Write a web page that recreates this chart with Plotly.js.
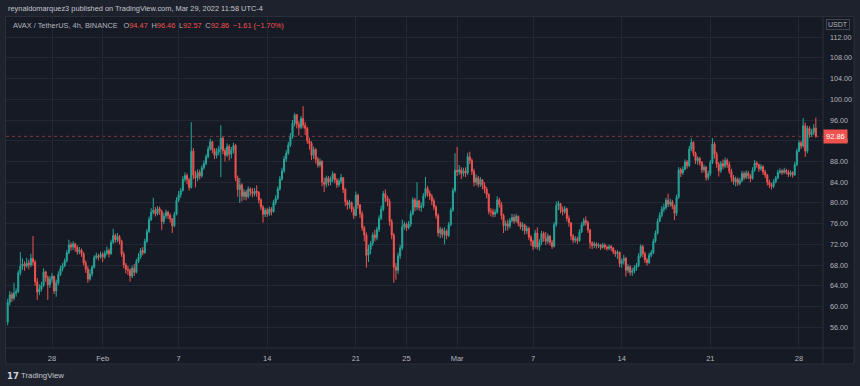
<!DOCTYPE html>
<html><head><meta charset="utf-8">
<script src="https://cdn.plot.ly/plotly-3.0.1.min.js"></script>
<style>html,body{margin:0;padding:0;background:#1e222d;}#chart{width:860px;height:386px;}</style>
</head><body><div id="chart"></div>
<script>
// ---- data (AVAX / TetherUS, 4h, BINANCE) ----
const startTime = '2022-01-24T12:00:00Z';
const stepHours = 4;
const firstOpen = 57.0;
const close = [
60.8,62.3,61.6,
62.6,62.9,66.5,67.8,68.2,67.8,
68.4,68.0,69.3,68.6,64.8,62.8,
63.4,64.1,66.7,65.6,64.2,65.3,
65.8,63.0,64.6,66.2,67.3,67.9,
68.8,70.4,71.9,71.5,72.1,71.4,
70.6,70.9,70.2,68.4,67.2,65.3,
66.3,67.6,69.5,69.8,69.5,70.1,
69.6,70.3,70.8,70.2,72.4,73.7,
72.9,73.5,72.6,70.1,68.0,67.2,
67.0,65.9,67.4,66.6,68.7,69.6,
70.8,70.4,72.6,74.5,76.8,78.2,
78.6,77.9,78.9,78.4,76.4,77.5,
78.2,77.6,76.9,75.6,77.8,80.5,
81.6,82.4,84.6,85.3,84.5,83.0,
90.0,85.4,84.8,85.9,85.2,86.8,
87.6,88.9,90.4,91.8,90.3,89.2,
89.8,90.4,92.5,90.1,89.2,90.9,
89.4,90.2,91.1,84.8,82.6,83.5,
81.3,82.1,81.2,82.7,82.2,81.8,
82.3,82.0,80.6,79.2,77.8,78.6,
77.9,78.8,78.3,80.1,80.9,82.7,
84.6,86.2,88.5,89.6,91.2,92.8,
95.4,97.0,95.2,94.6,96.3,95.0,
94.4,92.0,91.5,89.2,90.3,88.4,
87.3,88.0,84.0,83.6,84.8,84.0,
84.6,85.6,84.4,83.5,84.2,84.9,
82.6,80.3,79.6,80.1,78.8,77.6,
81.5,79.6,77.9,75.2,73.8,69.9,
71.1,72.2,73.8,73.3,74.9,77.0,
78.8,81.8,81.0,80.3,76.4,73.8,
67.6,67.0,69.8,71.3,75.4,75.9,
75.2,75.9,77.9,80.6,79.2,80.4,
79.1,79.4,81.4,82.8,81.9,81.3,
80.4,79.2,77.6,74.2,74.9,73.9,
74.6,73.7,75.8,78.6,82.4,86.3,
86.0,86.4,85.7,86.2,85.8,88.9,
88.2,86.1,84.0,84.8,83.6,84.5,
83.4,82.7,81.6,78.4,78.3,77.8,
78.2,80.6,79.7,77.6,75.6,76.0,
75.5,76.6,77.2,76.5,77.4,76.1,
75.4,75.8,74.6,75.1,73.4,72.6,
71.6,74.2,71.5,72.4,74.1,73.2,
72.6,73.6,72.4,71.6,75.8,79.5,
79.9,78.7,78.3,78.9,77.0,76.2,
73.6,72.8,73.1,72.7,74.4,75.8,
76.6,76.2,74.8,72.3,71.8,72.1,
71.7,71.9,71.4,71.9,71.5,71.2,
71.6,71.3,70.6,70.2,70.5,68.3,
68.8,69.3,67.0,67.7,66.6,66.9,
67.5,67.9,69.8,71.6,70.2,69.0,
68.5,69.9,70.4,72.6,74.2,76.4,
77.6,78.8,79.1,80.5,79.8,80.2,
79.4,78.0,81.1,86.4,85.8,86.5,
87.9,87.2,90.4,91.7,89.6,88.2,
88.6,87.8,86.4,86.9,84.9,85.6,
87.8,91.4,89.4,87.5,86.2,87.6,
87.1,88.2,87.4,86.1,84.9,84.1,
84.6,83.8,84.3,85.7,84.9,85.8,
85.2,84.7,86.3,87.7,87.4,86.6,
87.0,86.0,85.4,84.0,83.5,83.2,
84.1,84.8,85.9,86.2,85.9,86.3,
86.0,85.5,85.9,85.4,87.4,90.0,
91.6,91.0,94.9,90.0,94.4,93.2,
93.6,94.47,92.86
];
const high = [
61.5,63.0,62.8,
64.6,63.5,67.0,70.5,69.3,68.7,
69.4,69.0,70.2,73.6,69.0,65.5,
64.3,64.8,67.4,66.9,66.0,65.9,
66.5,66.0,65.2,66.8,67.9,68.4,
69.3,70.9,72.9,72.4,72.6,72.3,
71.8,71.5,71.2,70.5,68.9,67.8,
67.2,68.0,69.9,70.4,70.2,70.6,
70.5,70.8,71.6,71.2,72.9,75.0,
74.1,74.2,73.8,72.9,70.6,68.4,
67.9,67.4,67.9,68.2,69.2,70.3,
71.3,71.5,73.1,75.0,77.4,79.0,
81.0,79.2,79.4,79.3,78.7,78.1,
78.7,78.5,78.0,77.1,78.3,81.1,
82.3,82.9,85.2,85.9,85.7,84.8,
95.6,90.6,86.2,86.5,86.4,87.3,
88.2,89.4,91.0,92.4,92.0,90.6,
90.6,91.0,95.0,92.8,90.6,91.5,
91.3,90.8,91.6,91.4,85.3,84.8,
83.8,82.7,82.5,83.2,83.0,82.9,
82.9,83.4,82.3,80.9,79.6,79.1,
79.0,79.3,79.2,80.6,81.5,83.2,
85.2,86.8,89.1,90.2,91.8,93.5,
96.0,97.4,97.2,95.8,96.8,98.7,
95.6,94.7,92.6,91.9,90.9,90.6,
88.9,88.6,88.3,84.9,85.3,85.2,
85.1,86.1,85.8,84.8,84.7,85.6,
85.0,82.9,80.6,80.6,80.3,79.3,
82.2,81.8,79.8,78.4,75.6,74.3,
71.9,72.6,74.3,74.8,75.4,77.6,
79.5,82.3,82.6,81.4,80.8,76.9,
74.2,68.4,70.4,71.9,76.8,76.4,
76.2,76.5,78.5,81.1,81.0,84.0,
80.6,80.1,81.9,85.0,83.3,82.4,
81.7,80.9,79.6,78.0,75.4,75.2,
75.3,74.9,76.3,79.1,82.9,89.6,
90.8,87.3,86.9,86.8,86.9,89.7,
89.9,88.6,86.6,85.5,85.2,85.0,
84.6,84.0,83.1,81.9,79.0,78.9,
78.8,81.3,81.0,80.2,77.9,76.6,
76.8,77.1,77.9,77.8,77.9,77.6,
76.4,76.3,76.0,75.6,75.4,73.8,
72.9,74.8,75.3,73.0,74.6,74.5,
74.4,74.1,73.8,72.9,76.3,80.3,
80.4,80.0,79.3,79.4,79.1,77.6,
76.2,74.0,73.6,73.5,74.9,76.3,
77.1,77.4,76.6,75.0,72.6,72.5,
72.4,72.3,72.1,72.3,72.2,71.8,
72.0,71.9,71.5,70.9,70.9,70.6,
69.3,70.0,69.6,68.2,68.0,67.5,
68.0,68.4,70.3,72.0,71.9,70.6,
69.4,70.4,70.9,73.1,74.7,77.0,
78.2,79.4,79.9,81.0,81.8,80.8,
80.6,79.7,81.6,86.9,86.8,87.1,
88.4,88.3,91.0,92.5,91.9,89.9,
89.0,88.9,88.1,87.4,87.1,86.2,
88.3,92.5,91.8,89.9,87.9,88.1,
88.4,88.8,88.6,88.0,86.6,85.4,
85.1,84.9,84.9,86.2,86.1,86.3,
86.2,85.6,86.9,88.3,88.1,87.6,
87.5,87.3,86.4,85.6,84.5,83.9,
84.6,85.2,86.4,86.7,86.5,86.8,
86.6,86.4,86.3,86.1,87.9,90.5,
92.1,92.0,96.4,95.5,94.9,94.8,
94.3,95.2,96.46
];
const low = [
56.4,60.2,60.9,
61.2,61.9,62.6,66.0,67.1,66.9,
67.5,67.2,67.6,67.9,64.0,61.3,
62.2,62.9,63.8,64.8,61.3,63.6,
64.6,62.4,61.9,64.1,65.9,66.8,
67.6,68.5,70.1,70.8,70.9,70.6,
70.0,70.1,69.6,67.9,66.5,64.6,
65.0,65.8,67.3,69.1,68.9,69.3,
68.6,69.2,69.9,69.5,70.0,72.1,
72.3,72.4,72.0,69.6,67.4,66.4,
66.1,64.8,65.5,65.9,66.4,68.4,
69.2,69.9,70.2,72.3,74.2,76.5,
77.8,77.4,77.6,77.7,74.8,75.9,
77.0,76.9,76.2,74.2,75.3,77.6,
80.2,81.0,82.2,84.1,83.6,82.4,
82.8,84.6,83.0,84.2,84.5,84.9,
86.4,87.3,88.6,90.1,89.6,88.5,
88.6,89.2,85.0,89.4,88.0,88.9,
88.2,88.6,89.6,84.2,81.2,80.0,
80.3,80.6,80.5,80.9,81.4,81.1,
81.3,81.2,79.9,78.6,76.2,77.3,
77.3,77.5,77.6,78.1,79.6,80.6,
82.4,84.3,85.8,87.9,89.3,90.8,
92.4,94.8,94.4,93.0,94.2,94.4,
93.1,91.4,90.3,88.3,88.5,87.6,
86.8,86.9,83.2,82.1,83.0,83.3,
83.4,84.0,83.8,82.9,83.1,83.7,
81.9,79.4,78.7,78.9,78.2,76.9,
77.4,78.9,77.1,74.6,72.6,67.5,
68.6,70.1,71.7,72.6,72.8,74.4,
76.7,78.4,80.2,79.4,75.6,73.0,
64.6,65.2,66.3,69.2,70.9,74.8,
74.6,74.9,75.4,77.6,78.4,78.6,
78.5,78.3,79.0,81.0,81.2,80.6,
79.6,78.6,77.0,73.5,73.2,73.3,
72.0,73.0,73.4,75.5,78.3,82.0,
85.2,85.4,84.6,85.1,85.0,85.4,
87.5,85.4,83.2,83.4,83.0,83.1,
82.6,81.9,80.9,77.8,77.4,77.2,
77.3,77.9,79.1,76.8,74.2,74.6,
74.7,75.1,76.2,76.0,76.2,75.5,
74.9,74.6,73.9,74.0,72.8,71.7,
70.9,71.2,71.0,70.8,71.9,72.5,
71.9,72.1,71.8,71.1,71.4,75.4,
78.6,78.0,77.6,77.9,76.4,75.4,
72.8,72.2,72.3,72.1,72.5,74.2,
75.5,75.6,74.2,71.2,71.1,71.3,
71.2,71.3,70.9,71.2,71.0,70.8,
70.9,70.7,70.1,69.6,69.2,67.6,
67.5,68.1,65.8,66.5,66.0,65.9,
66.4,66.9,67.6,69.4,69.5,68.4,
67.9,68.2,69.5,70.1,72.3,73.9,
76.4,77.2,78.2,78.7,79.2,79.3,
78.8,76.7,77.5,80.8,85.0,85.4,
86.3,86.6,86.9,90.0,89.0,87.5,
87.4,87.2,85.8,85.9,84.3,84.4,
85.2,87.5,88.6,86.8,85.1,85.8,
86.5,86.7,86.8,85.6,84.1,83.5,
83.2,83.3,83.4,84.0,84.4,84.6,
84.6,84.0,84.5,86.0,86.8,86.0,
86.2,85.4,84.8,83.4,82.9,82.6,
82.9,83.8,84.6,85.6,85.4,85.6,
85.5,85.0,85.1,84.9,85.2,87.1,
89.8,90.4,90.7,88.9,89.6,92.6,
92.8,93.1,92.57
];
const tickDates = ['2022-01-28','2022-02-01','2022-02-07','2022-02-14','2022-02-21','2022-02-25','2022-03-01','2022-03-07','2022-03-14','2022-03-21','2022-03-28'];
const tickLabels = ['28','Feb','7','14','21','25','Mar','7','14','21','28'];
const priceTicks = [56,60,64,68,72,76,80,84,88,92,96,100,104,108,112];

// ---- derived ----
const times = close.map((_, i) => new Date(Date.parse(startTime) + i*stepHours*3600e3).toISOString().slice(0,16).replace('T',' '));
const open = close.map((c, i) => i === 0 ? firstOpen : close[i-1]);
const n = close.length;
const lastO = open[n-1], lastH = high[n-1], lastL = low[n-1], lastC = close[n-1];
const chg = lastC - lastO, pct = chg / lastO * 100;
const fmtS = v => (v < 0 ? '\u2212' : '+') + Math.abs(v).toFixed(2);

// ---- layout geometry (pixels) ----
const PL = 6, PR = 823, PT = 17, PB = 348;
const xp = x => (x - PL) / (PR - PL);
const yp = y => (PB - y) / (PB - PT);
const FONT = 'Liberation Sans Narrow, Liberation Sans, Arial, sans-serif';
const UP = '#26a69a', DN = '#ef5350', TXT = '#b2b5be', GRID = '#232734', BORDER = '#2a2e39';

const trace = {
  type: 'candlestick', x: times, open: open, high: high, low: low, close: close,
  increasing: {line: {color: UP, width: 1}, fillcolor: UP},
  decreasing: {line: {color: DN, width: 1}, fillcolor: DN},
  whiskerwidth: 0, hoverinfo: 'skip', showlegend: false
};

const red = s => '<span style="color:' + DN + '">' + s + '</span>';
const legendText = 'AVAX / TetherUS, 4h, BINANCE\u2002 O' + red(lastO.toFixed(2)) + '\u2002H' + red(lastH.toFixed(2)) +
  '\u2002L' + red(lastL.toFixed(2)) + '\u2002C' + red(lastC.toFixed(2)) + '\u2002' + red(fmtS(chg) + ' (' + fmtS(pct) + '%)');

const layout = {
  width: 860, height: 386,
  margin: {l: PL, r: 860 - PR, t: PT, b: 386 - PB, pad: 0},
  paper_bgcolor: '#1e222d', plot_bgcolor: 'rgba(0,0,0,0)',
  showlegend: false,
  font: {family: FONT, size: 8, color: TXT},
  xaxis: {
    type: 'date', range: ['2022-01-24 08:48', '2022-03-29 21:36'],
    tickmode: 'array', tickvals: tickDates, ticktext: tickLabels,
    showgrid: true, gridcolor: GRID, gridwidth: 1, zeroline: false, showline: false,
    ticks: '', ticklabelstandoff: 4, tickfont: {family: FONT, size: 7.5, color: TXT},
    rangeslider: {visible: false}, fixedrange: true
  },
  yaxis: {
    side: 'right', range: [52, 115.9],
    tickmode: 'array', tickvals: priceTicks, ticktext: priceTicks.map(v => v.toFixed(2)),
    showgrid: true, gridcolor: GRID, gridwidth: 1, zeroline: false, showline: false,
    ticks: '', ticklabelstandoff: 6, tickfont: {family: FONT, size: 7.2, color: TXT}, fixedrange: true
  },
  shapes: [
    {type: 'rect', xref: 'paper', yref: 'paper', x0: xp(5.5), x1: xp(854), y0: yp(364), y1: yp(16.5),
     fillcolor: '#161a25', line: {color: BORDER, width: 1}, layer: 'below'},
    {type: 'line', xref: 'paper', yref: 'paper', x0: xp(5.5), x1: xp(854), y0: 0, y1: 0,
     line: {color: BORDER, width: 1}, layer: 'below'},
    {type: 'line', xref: 'paper', yref: 'paper', x0: 1, x1: 1, y0: yp(364), y1: yp(16.5),
     line: {color: BORDER, width: 1}, layer: 'below'},
    {type: 'line', xref: 'paper', yref: 'y', x0: 0, x1: 1, y0: lastC, y1: lastC,
     line: {color: 'rgba(239,83,80,0.5)', width: 1, dash: 'dot'}, layer: 'below'}
  ],
  annotations: [
    {xref: 'paper', yref: 'paper', x: xp(6), y: yp(9), xanchor: 'left', yanchor: 'middle', showarrow: false,
     text: 'reynaldomarquez3 published on TradingView.com, Mar 29, 2022 11:58 UTC-4',
     font: {family: FONT, size: 7.4, color: '#c3c6ce'}},
    {xref: 'paper', yref: 'paper', x: xp(11), y: yp(25), xanchor: 'left', yanchor: 'middle', showarrow: false,
     text: legendText, font: {family: FONT, size: 7.4, color: TXT}},
    {xref: 'paper', yref: 'paper', x: xp(838), y: yp(24.5), xanchor: 'center', yanchor: 'middle', showarrow: false,
     text: 'USDT', font: {family: FONT, size: 7, color: TXT}, bordercolor: '#434651', borderwidth: 1, borderpad: 1},
    {xref: 'paper', yref: 'y', x: xp(823), y: lastC, xanchor: 'left', yanchor: 'middle', showarrow: false,
     text: lastC.toFixed(2), bgcolor: DN, font: {family: FONT, size: 7.5, color: '#ffffff'}, borderpad: 2},
    {xref: 'paper', yref: 'paper', x: xp(5), y: yp(375.5), xanchor: 'left', yanchor: 'middle', showarrow: false,
     text: '<b>17</b>', font: {family: 'DejaVu Sans, sans-serif', size: 8.5, color: '#d1d4dc'}},
    {xref: 'paper', yref: 'paper', x: xp(18.5), y: yp(375.5), xanchor: 'left', yanchor: 'middle', showarrow: false,
     text: 'TradingView', font: {family: FONT, size: 7.8, color: '#c3c6ce'}}
  ]
};

Plotly.newPlot('chart', [trace], layout, {staticPlot: true, displayModeBar: false});
</script>
</body></html>
